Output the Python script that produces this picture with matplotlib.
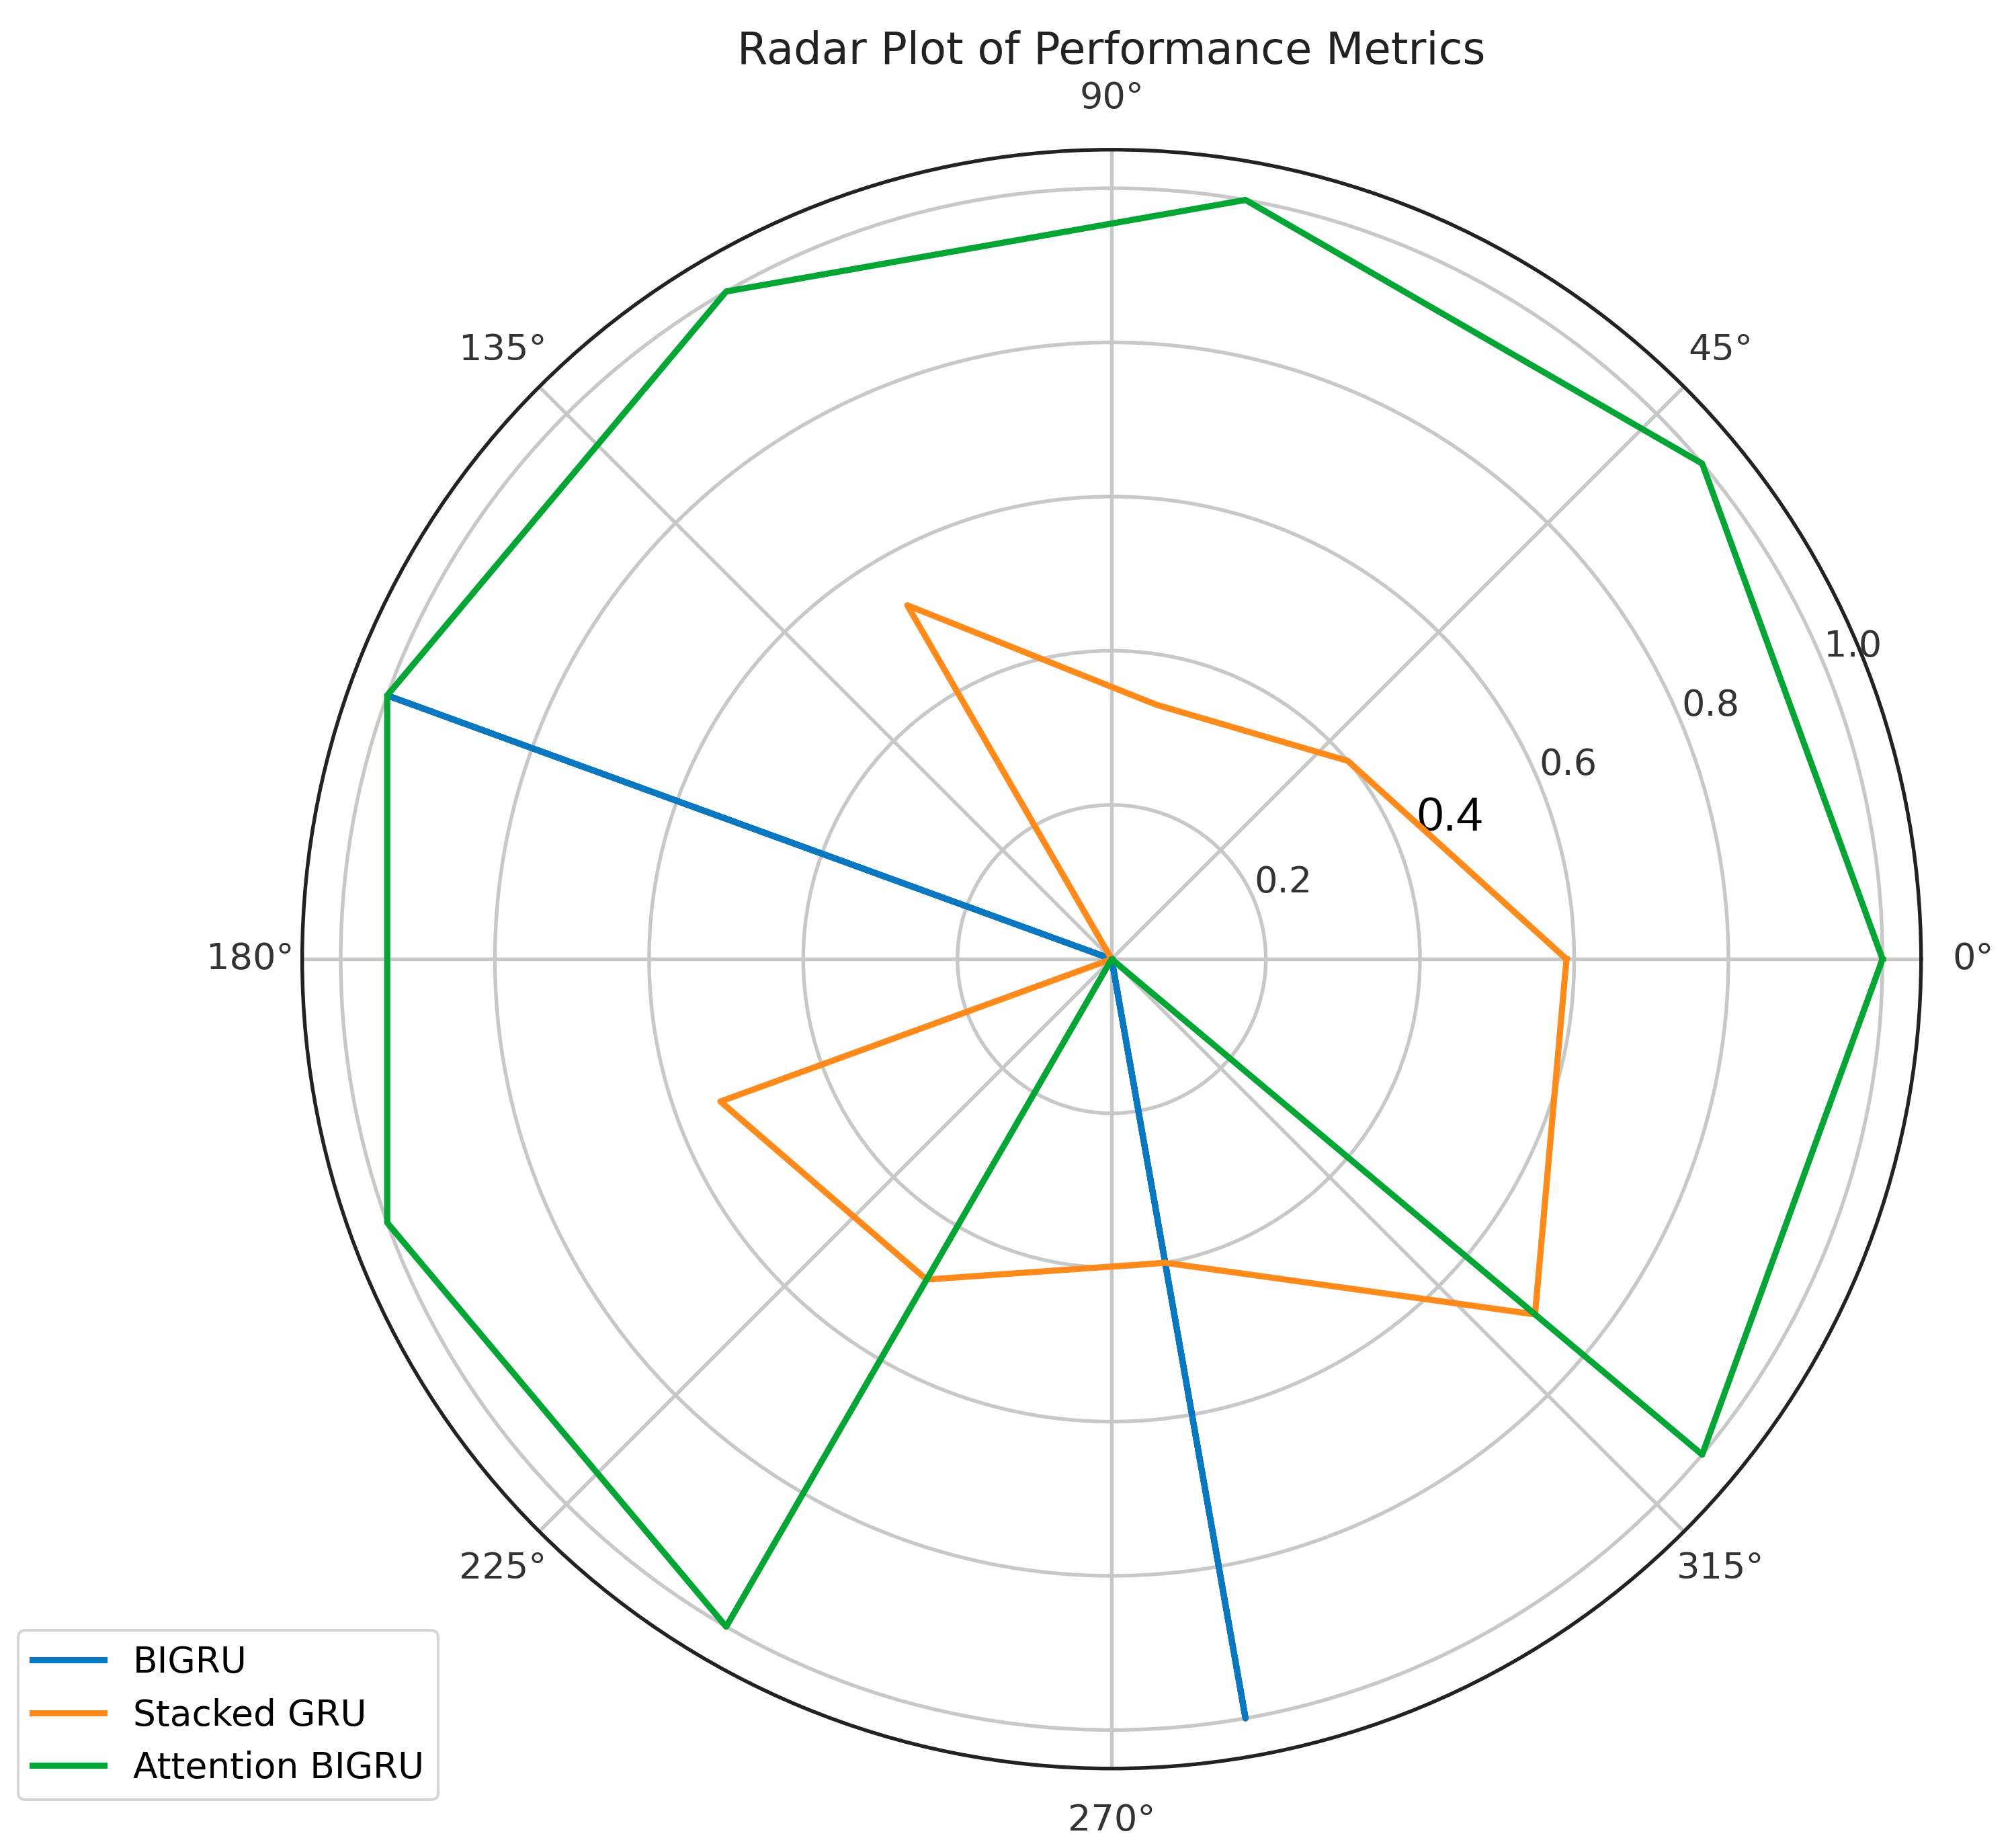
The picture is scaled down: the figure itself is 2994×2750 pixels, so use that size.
import numpy as np
import matplotlib.pyplot as plt
from matplotlib.transforms import ScaledTranslation

# nine metrics spread around the circle (40 degree steps)
angles_deg = [0, 40, 80, 120, 160, 200, 240, 280, 320]
bigru = [0, 0, 0, 0, 1.0, 0, 0, 1.0, 0]
stacked_gru = [0.59, 0.40, 0.335, 0.53, 0, 0.54, 0.48, 0.40, 0.717]
attention_bigru = [1.0, 1.0, 1.0, 1.0, 1.0, 1.0, 1.0, 0, 1.0]

labels = ['BIGRU', 'Stacked GRU', 'Attention BIGRU']
colors = ['#0a78c0', '#ff8a1c', '#03a535']

theta = np.deg2rad(angles_deg + [angles_deg[0]])

fig = plt.figure(figsize=(9.98, 9.1667), dpi=300)
ax = fig.add_axes([0.15, 0.043, 0.805, 0.876], projection='polar')

for vals, lab, c in zip([bigru, stacked_gru, attention_bigru], labels, colors):
    ax.plot(theta, vals + [vals[0]], color=c, linewidth=2.2, label=lab)

ax.set_ylim(0, 1.05)
ax.set_yticks([0.2, 0.4, 0.6, 0.8, 1.0])
ax.grid(True, color='#c8c8c8', linewidth=1.3)
ax.spines['polar'].set_linewidth(1.3)
ax.spines['polar'].set_color('#222222')
ax.tick_params(axis='x', labelsize=13, colors='#333333', pad=8)
ax.tick_params(axis='y', labelsize=13, colors='#333333')

# the 0.4 label is drawn bigger, darker and a bit further out in the reference
fig.canvas.draw()
for t in ax.get_yticklabels():
    if t.get_text() == '0.4':
        t.set_fontsize(17)
        t.set_color('black')
        t.set_family('Liberation Sans')
        t.set_transform(t.get_transform() + ScaledTranslation(0.1, 0.0, fig.dpi_scale_trans))

ax.set_title('Radar Plot of Performance Metrics', fontsize=15.7, color='#222222')

fig.legend(loc='lower left', bbox_to_anchor=(0.009, 0.026), bbox_transform=fig.transFigure,
           borderaxespad=0, fontsize=12.8, frameon=True, handlelength=2.0)

fig.savefig('out.png', dpi=300)
